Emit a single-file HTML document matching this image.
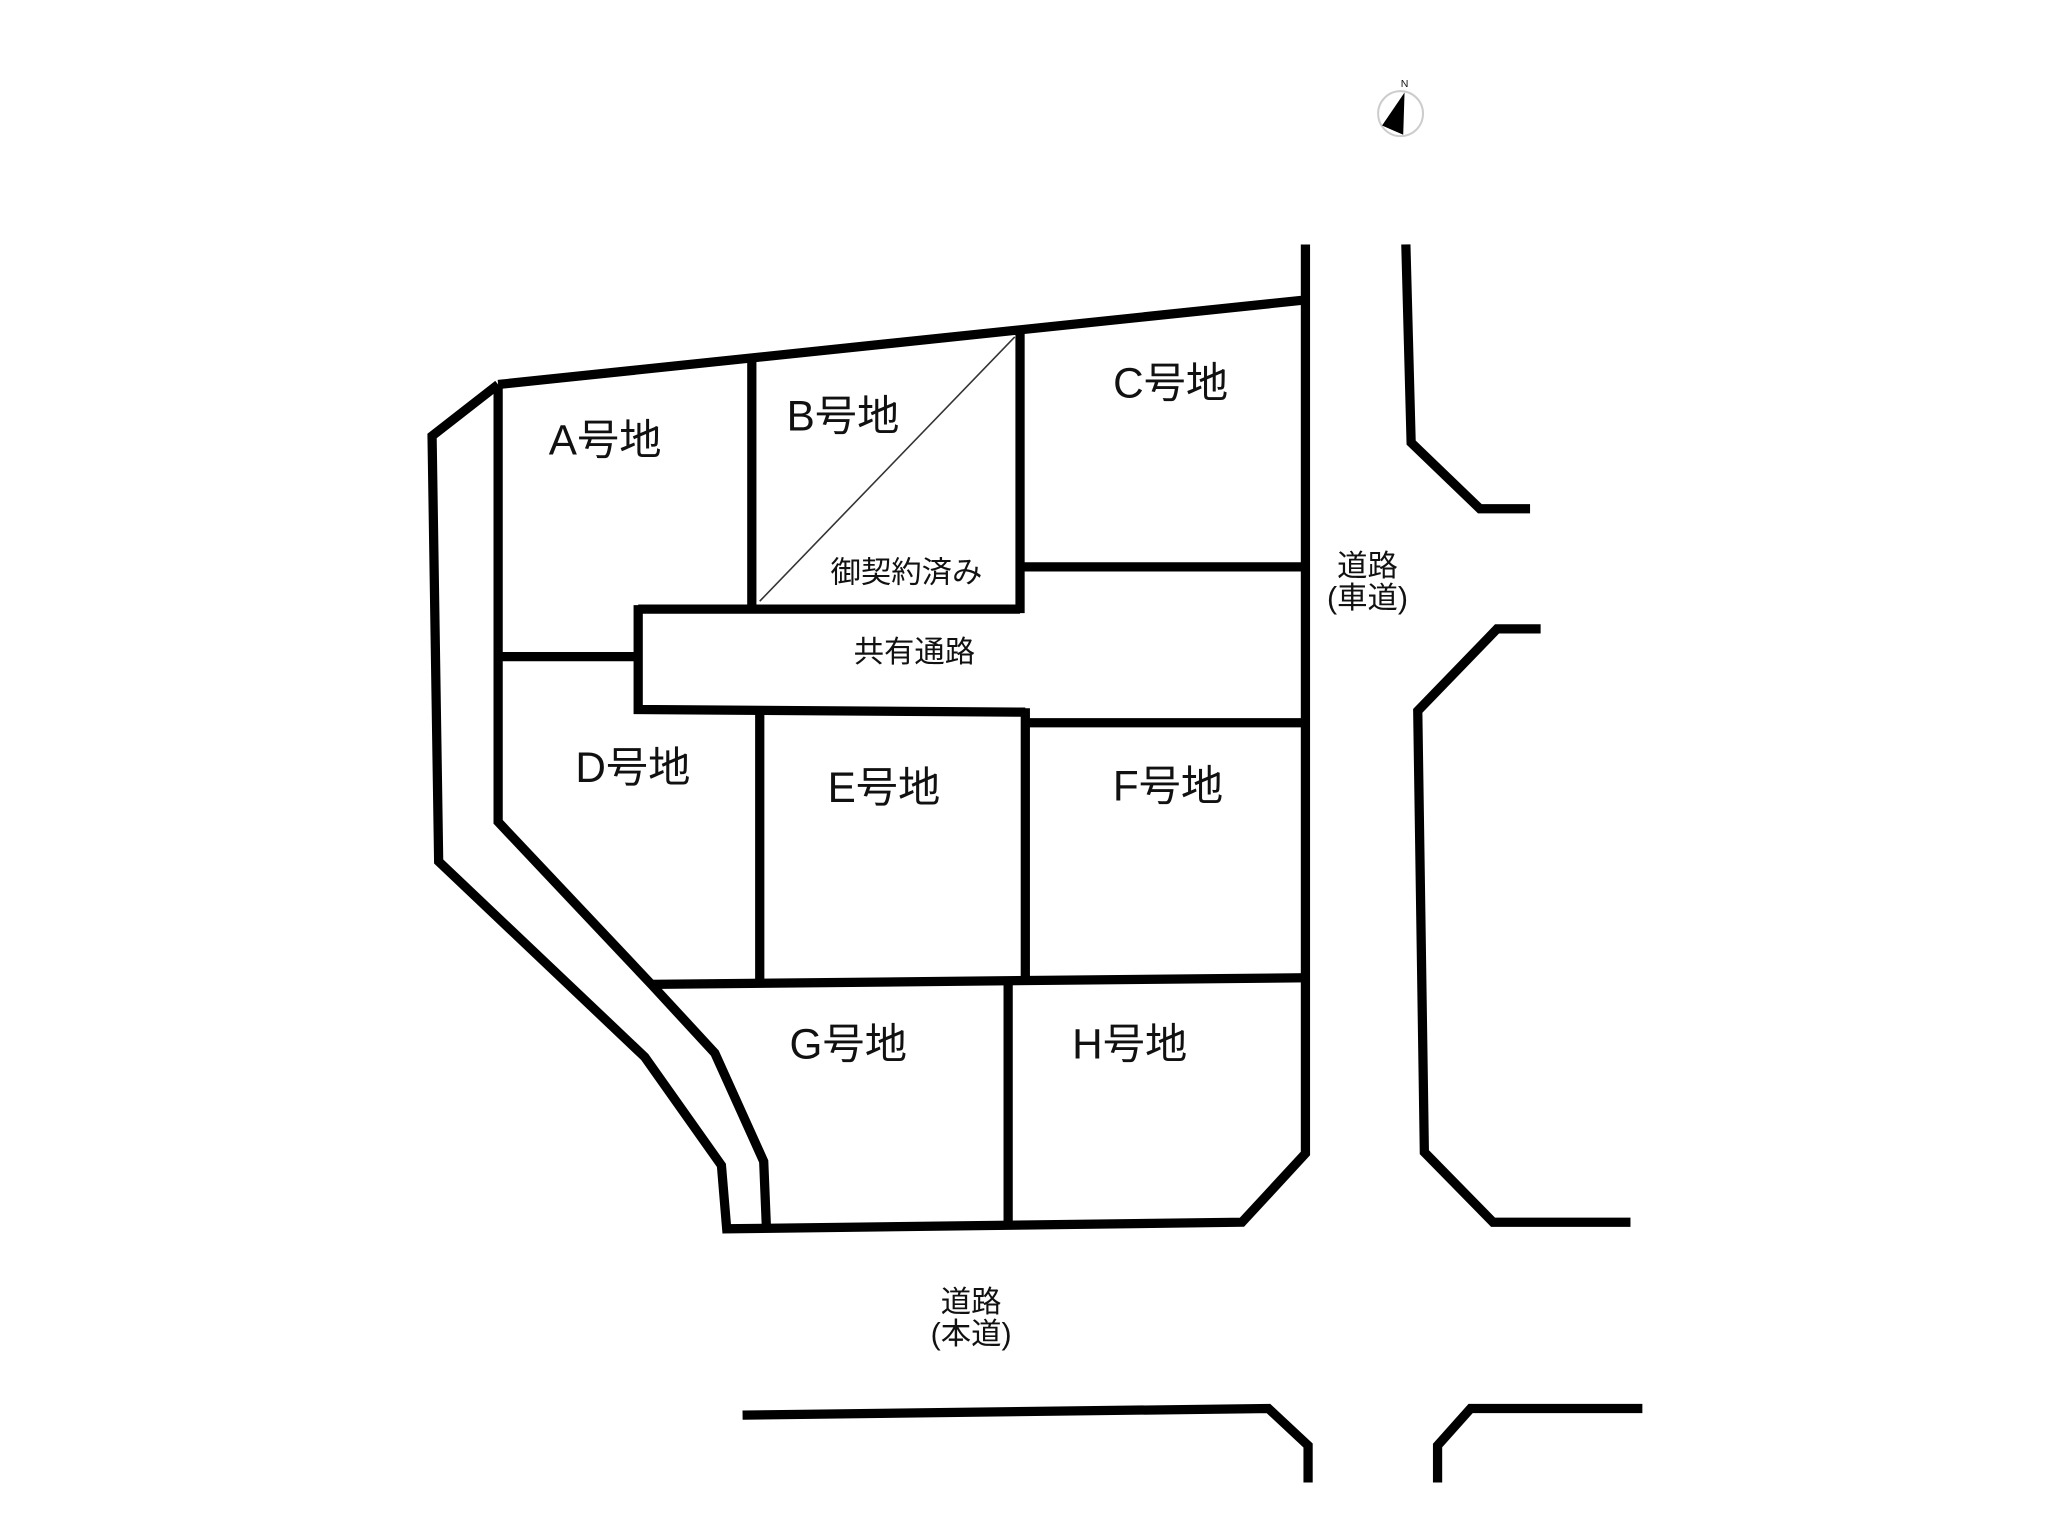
<!DOCTYPE html>
<html><head><meta charset="utf-8"><style>
html,body{margin:0;padding:0;background:#fff;}
svg{display:block;}
text{font-family:"Liberation Sans","Noto Sans CJK JP",sans-serif;fill:#111;}
</style></head><body>
<svg width="2048" height="1536" viewBox="0 0 1550 1162.5" preserveAspectRatio="none" xmlns="http://www.w3.org/2000/svg">
<g fill="none" stroke="#000" stroke-width="7" stroke-linejoin="miter" stroke-linecap="butt">
<polyline points="377,291 988,227"/>
<polyline points="377,291 327,330 332,652 488,800 546,882 550,930 940,925 988,873 988,185"/>
<polyline points="377,291 377,622 493,745 541,797 578,879 580,928"/>
<line x1="569" y1="273" x2="569" y2="461"/>
<line x1="772" y1="250" x2="772" y2="464"/>
<polyline points="483,461 772,461"/>
<polyline points="377,497 483,497"/>
<polyline points="483,458 483,537 776,539"/>
<line x1="772" y1="429" x2="988" y2="429"/>
<line x1="575" y1="539" x2="575" y2="745"/>
<line x1="776" y1="536" x2="776" y2="740"/>
<line x1="776" y1="547" x2="988" y2="547"/>
<line x1="493" y1="745" x2="988" y2="740"/>
<line x1="763" y1="745" x2="763" y2="925"/>
<polyline points="1064,185 1068,335 1120,385 1158,385"/>
<polyline points="1166,476 1133,476 1073,538 1078,872 1130,925 1234,925"/>
<polyline points="562,1071 960,1066 990,1094 990,1122"/>
<polyline points="1088,1122 1088,1094 1113,1066 1243,1066"/>
</g>
<line x1="575" y1="455" x2="768" y2="255" stroke="#333" stroke-width="1.2"/>
<circle cx="1060" cy="86" r="17" fill="none" stroke="#ccc" stroke-width="1.5"/>
<polygon points="1063,70 1062,102 1046,95" fill="#000"/>
<text x="1063" y="66" font-size="8" text-anchor="middle">N</text>
<g font-size="32" text-anchor="middle">
<text x="458" y="344">A号地</text>
<text x="638" y="326">B号地</text>
<text x="886" y="301">C号地</text>
<text x="479" y="592">D号地</text>
<text x="669" y="607">E号地</text>
<text x="884" y="606">F号地</text>
<text x="642" y="801">G号地</text>
<text x="855" y="801">H号地</text>
</g>
<g font-size="23" text-anchor="middle">
<text x="686" y="441">御契約済み</text>
<text x="692" y="501">共有通路</text>
<text x="1035" y="436">道路</text>
<text x="1035" y="460">(車道)</text>
<text x="735" y="993">道路</text>
<text x="735" y="1017">(本道)</text>
</g>
</svg>
</body></html>
